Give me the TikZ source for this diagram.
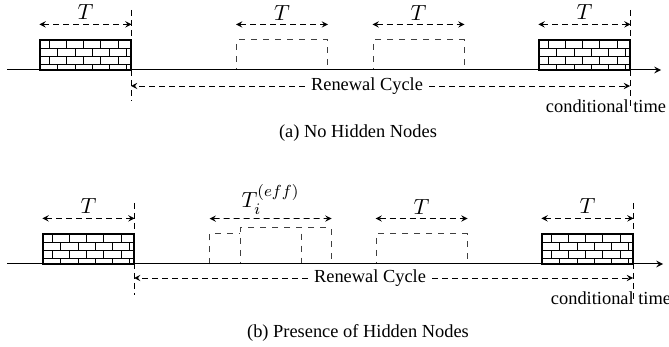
\documentclass[tikz,border=0pt]{standalone}
\usepackage{fontspec}
\setmainfont{Liberation Serif}
\usepackage{amsmath}
\usepackage{tikz}
\usetikzlibrary{arrows}
\tikzstyle{brick} = 
[
	rectangle, 
	draw=black, 
	line width=0.6pt, 
	minimum width=45.5pt, 
	minimum height=15pt, 
	inner sep=0pt,
	path picture=
	{
		\foreach \r in {0,...,3}
		{
			\draw [line width=0.4pt] 
				([yshift={\r*4pt-1pt}]path picture bounding box.south west) -- ++(50pt,0pt);
			\foreach \c in {0,...,5}
				\draw [line width=0.4pt] 
					([xshift={4.6pt+(1-mod(\r,2))*4.3pt+\c*8.6pt}, yshift={\r*4pt-1pt}]path picture bounding box.south west) -- ++(0pt,4pt);
		}
	}
]
\tikzstyle{slot} = 
	[
		rectangle, 
		minimum width=45.5pt, 
		minimum height=15pt, 
		inner sep=0pt,
		draw=black!75, 
		line width=0.5pt,
		dashed
	]
\tikzstyle{slotline} = [draw=black!75, line width=0.5pt, dashed]
\tikzstyle{span} = [densely dashed, <->, >=stealth]
\tikzstyle{arrow} = [densely dashed, ->, >=stealth]
\tikzstyle{cut} = [densely dashed, line width=0.4pt]
\tikzstyle{axis} = [line width=0.5pt, ->, >=stealth]
\tikzstyle{tlabel} = [midway, above=2pt, inner sep=0pt, font=\fontsize{11}{13}\selectfont]
\tikzstyle{txt} = [inner sep=3pt, font=\fontsize{9.2}{11}\selectfont]

\begin{document}
\begin{tikzpicture}[x=0.5pt, y=-0.5pt]
	\useasboundingbox (0,0) rectangle (669,347);
	
	% (a) no hidden nodes
	\node
	(brickA)
	[brick]
	at (85.5,55)
	{};
	
	\node
	(idleA)
	[slot]
	at (282,55)
	{};
	
	\node
	(idleB)
	[slot]
	at (418.5,55)
	{};
	
	\node
	(brickB)
	[brick]
	at (584.5,55)
	{};
	
	\coordinate (axisA0) at (7,70);
	\coordinate (axisA1) at (661,70);
	\coordinate (cutA0) at (131,10);
	\coordinate (cutA1) at (131,101);
	\coordinate (cutB0) at (630,10);
	\coordinate (cutB1) at (630,106);
	\coordinate (renA0) at (131,86);
	\coordinate (renA1) at (630,86);
	
	\node
	(cycleA)
	[txt]
	at (367,86)
	{Renewal Cycle};
	
	\node
	(condA)
	[txt]
	at (606,106)
	{conditional time};
	
	\node
	(capA)
	[txt]
	at (358,133)
	{(a) No Hidden Nodes};
	
	\draw [axis] (axisA0) -- (axisA1);
	\draw [cut] (cutA0) -- (cutA1);
	\draw [cut] (cutB0) -- (cutB1);
	\draw [arrow] (cycleA.west) -- (renA0);
	\draw [arrow] (cycleA.east) -- (renA1);
	\draw [span] ([yshift=7.5pt]brickA.north west) -- ([yshift=7.5pt]brickA.north east) node [tlabel] (tA) {$T$};
	\draw [span] ([yshift=7.5pt]idleA.north west) -- ([yshift=7.5pt]idleA.north east) node [tlabel] (tB) {$T$};
	\draw [span] ([yshift=7.5pt]idleB.north west) -- ([yshift=7.5pt]idleB.north east) node [tlabel] (tC) {$T$};
	\draw [span] ([yshift=7.5pt]brickB.north west) -- ([yshift=7.5pt]brickB.north east) node [tlabel] (tD) {$T$};
	
	% (b) presence of hidden nodes
	\node
	(brickC)
	[brick]
	at (88.5,249)
	{};
	
	\node
	(hiddenA)
	[
		rectangle,
		minimum width=45.5pt,
		minimum height=15pt,
		inner sep=0pt
	]
	at (255.5,249)
	{};
	
	\node
	(hiddenB)
	[
		slot,
		minimum height=18pt
	]
	at (285.5,246)
	{};
	
	\node
	(idleC)
	[slot]
	at (421.5,249)
	{};
	
	\node
	(brickD)
	[brick]
	at (587.5,249)
	{};
	
	\coordinate (axisB0) at (7,264);
	\coordinate (axisB1) at (663,264);
	\coordinate (cutC0) at (134,203);
	\coordinate (cutC1) at (134,295);
	\coordinate (cutD0) at (633,203);
	\coordinate (cutD1) at (633,300);
	\coordinate (renB0) at (134,278);
	\coordinate (renB1) at (633,278);
	
	\node
	(cycleB)
	[txt]
	at (370,278)
	{Renewal Cycle};
	
	\node
	(condB)
	[txt]
	at (611,298)
	{conditional time};
	
	\node
	(capB)
	[txt]
	at (358,333)
	{(b) Presence of Hidden Nodes};
	
	\draw [slotline] (hiddenA.south west) -- (hiddenA.north west) -- (hiddenB.west |- hiddenA.north);
	\draw [slotline] (hiddenA.north east) -- (hiddenA.south east);
	\draw [axis] (axisB0) -- (axisB1);
	\draw [cut] (cutC0) -- (cutC1);
	\draw [cut] (cutD0) -- (cutD1);
	\draw [arrow] (cycleB.west) -- (renB0);
	\draw [arrow] (cycleB.east) -- (renB1);
	\draw [span] ([yshift=7.5pt]brickC.north west) -- ([yshift=7.5pt]brickC.north east) node [tlabel] (tE) {$T$};
	\draw [span] ([yshift=7.5pt]hiddenA.north west) -- ([yshift=4.5pt]hiddenB.north east) node [tlabel, above=0pt] (tF) {$T_i^{(eff)}$};
	\draw [span] ([yshift=7.5pt]idleC.north west) -- ([yshift=7.5pt]idleC.north east) node [tlabel] (tG) {$T$};
	\draw [span] ([yshift=7.5pt]brickD.north west) -- ([yshift=7.5pt]brickD.north east) node [tlabel] (tH) {$T$};
	
\end{tikzpicture}
\end{document}
